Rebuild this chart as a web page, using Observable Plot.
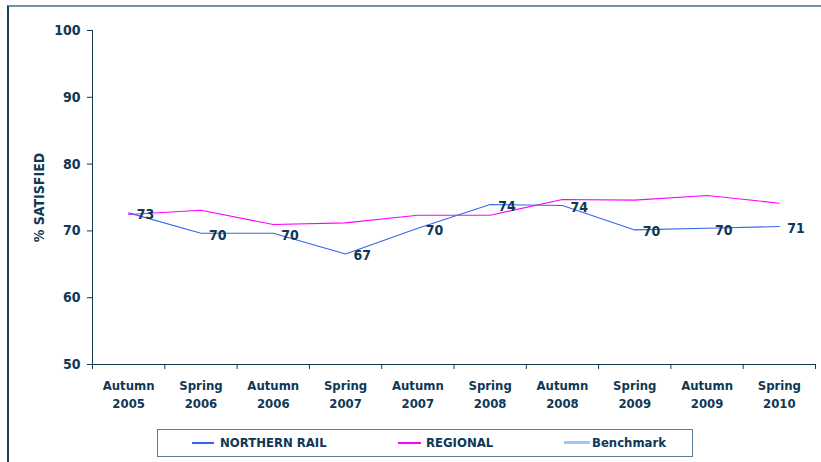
<!DOCTYPE html>
<html><head><meta charset="utf-8">
<script src="https://cdn.jsdelivr.net/npm/d3@7"></script>
<script src="https://cdn.jsdelivr.net/npm/@observablehq/plot@0.6"></script>
<style>
body{margin:0;background:#fff;}
#wrap{position:relative;width:821px;height:462px;overflow:hidden;font-family:"DejaVu Sans Condensed","DejaVu Sans",sans-serif;font-stretch:condensed;font-weight:bold;font-size:13px;color:#0f3855;background:#fff}
#frame{position:absolute;left:7px;top:5px;width:830px;height:470px;border-top:2px solid #7393ab;border-left:2px solid #173f5c;}
#chart{position:absolute;left:0;top:0}
#legend{position:absolute;left:157px;top:429px;width:536px;height:28px;border:1px solid #5f7f96;box-sizing:border-box;background:#fff}
.sw{position:absolute;top:12px;height:0;border-top:2px solid}
.lb{position:absolute;top:5px;line-height:16px;white-space:nowrap}
</style></head>
<body>
<div id="wrap">
  <div id="frame"></div>
  <div id="chart"></div>
  <div id="legend"></div>
</div>
<script>
const categories = ["Autumn 2005","Spring 2006","Autumn 2006","Spring 2007","Autumn 2007","Spring 2008","Autumn 2008","Spring 2009","Autumn 2009","Spring 2010"];
const northernRail = [72.7, 69.65, 69.65, 66.55, 70.4, 73.95, 73.8, 70.15, 70.4, 70.65];
const regional = [72.45, 73.1, 70.95, 71.2, 72.35, 72.35, 74.7, 74.6, 75.3, 74.15];
const benchmark = [];
const yTicks = [50, 60, 70, 80, 90, 100];
const seriesNames = ["NORTHERN RAIL", "REGIONAL", "Benchmark"];
const seriesColors = ["#3366ee", "#ff00ff", "#99c8f5"];

const navy = "#0f3855";
const data = categories.map((c, i) => ({i, cat: c, northern: northernRail[i], regional: regional[i]}));

const chart = Plot.plot({
  width: 821, height: 425,
  marginLeft: 92, marginRight: 6, marginTop: 30, marginBottom: 61,
  style: {fontFamily: '"DejaVu Sans Condensed","DejaVu Sans",sans-serif', fontWeight: "bold", fontSize: "13px", color: navy, background: "transparent", fontStretch: "condensed"},
  x: {type: "linear", domain: [-0.5, categories.length - 0.5]},
  y: {domain: [50, 100]},
  marks: [
    Plot.axisY({ticks: yTicks, tickSize: 5, tickPadding: 7, fontSize: 14, label: null}),
    Plot.axisY({ticks: [], tickSize: 0, label: "% SATISFIED", labelAnchor: "center", labelArrow: "none", labelOffset: 58, fontSize: 14}),
    Plot.axisX({ticks: d3.range(-0.5, categories.length, 1), tickSize: 5, tickFormat: () => "", label: null}),
    Plot.axisX({ticks: d3.range(categories.length), tickSize: 0, tickPadding: 13, lineHeight: 1.38, tickFormat: i => categories[i].replace(" ", "\n"), label: null}),
    Plot.ruleX([-0.5], {stroke: navy}),
    Plot.ruleY([50], {stroke: navy}),
    Plot.line(data, {x: "i", y: "regional", stroke: seriesColors[1], strokeWidth: 1.1}),
    Plot.line(data, {x: "i", y: "northern", stroke: seriesColors[0], strokeWidth: 1.1}),
    Plot.text(data, {x: "i", y: "northern", text: d => Math.round(d.northern), textAnchor: "start", dx: 8, dy: 2, fill: navy, fontSize: 14})
  ]
});
document.getElementById("chart").appendChild(chart);

const legend = document.getElementById("legend");
const swX = [34, 240, 406];
const swW = [22, 23, 26];
const lbX = [62, 268, 434];
seriesNames.forEach((name, k) => {
  const sw = document.createElement("div");
  sw.className = "sw";
  sw.style.left = swX[k] + "px";
  sw.style.width = swW[k] + "px";
  sw.style.borderTopColor = seriesColors[k];
  if (k === 2) { sw.style.borderTopWidth = "3px"; sw.style.top = "11px"; }
  legend.appendChild(sw);
  const lb = document.createElement("div");
  lb.className = "lb";
  lb.style.left = lbX[k] + "px";
  lb.textContent = name;
  legend.appendChild(lb);
});
</script>
</body></html>
